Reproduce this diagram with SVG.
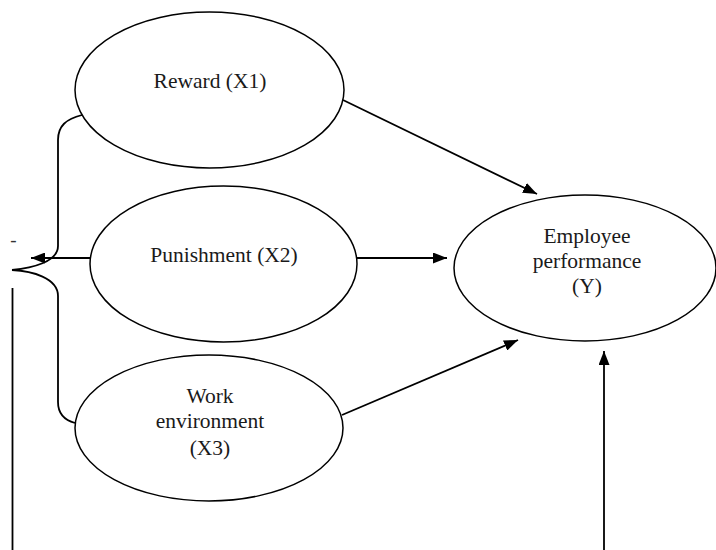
<svg xmlns="http://www.w3.org/2000/svg" width="716" height="550" viewBox="0 0 716 550">
<style>
.node ellipse{fill:#fff;stroke:#000;stroke-width:1.5}
.node text{font-family:"Liberation Serif","Times New Roman",serif;font-size:21.5px;fill:#1a1a1a;text-anchor:middle}
.conn path,.conn line{fill:none;stroke:#000;stroke-width:1.8}
</style>
<defs>
<marker id="ah" viewBox="0 0 14 11" refX="14" refY="5.5" markerWidth="14" markerHeight="11" markerUnits="userSpaceOnUse" orient="auto">
<path d="M0,0 L14,5.5 L0,11 Z" fill="#000"/>
</marker>
</defs>
<rect width="716" height="550" fill="#fff"/>
<g id="reward" class="node">
<ellipse cx="209.5" cy="90" rx="134.5" ry="78"/>
<text x="210" y="88">Reward (X1)</text>
</g>
<g id="punishment" class="node">
<ellipse cx="223.5" cy="264" rx="133.5" ry="78"/>
<text x="224" y="262">Punishment (X2)</text>
</g>
<g id="work" class="node">
<ellipse cx="209" cy="428" rx="134" ry="73"/>
<text x="210" y="403">Work</text>
<text x="210" y="428">environment</text>
<text x="210" y="455">(X3)</text>
</g>
<g id="employee" class="node">
<ellipse cx="585" cy="268" rx="131" ry="73"/>
<text x="587" y="243">Employee</text>
<text x="587" y="268">performance</text>
<text x="587" y="293">(Y)</text>
</g>
<g id="connectors" class="conn">
<line x1="343" y1="100" x2="537" y2="194" marker-end="url(#ah)"/>
<line x1="357" y1="258" x2="447" y2="258" marker-end="url(#ah)"/>
<line x1="342" y1="415" x2="518" y2="340" marker-end="url(#ah)"/>
<line x1="604" y1="550" x2="604" y2="351" marker-end="url(#ah)"/>
<line x1="90" y1="258" x2="31" y2="258" marker-end="url(#ah)"/>
<path d="M82,115 C66,119 58,126 58,140 L58,246 C58,262 32,268 12,270"/>
<path d="M12,270 C32,271 58,278 58,296 L58,402 C58,414 64,420 75,423"/>
<line x1="12.5" y1="288" x2="12.5" y2="550"/>
</g>
<text x="13.5" y="246" font-family="Liberation Serif, serif" font-size="19" text-anchor="middle" fill="#333">-</text>
</svg>
